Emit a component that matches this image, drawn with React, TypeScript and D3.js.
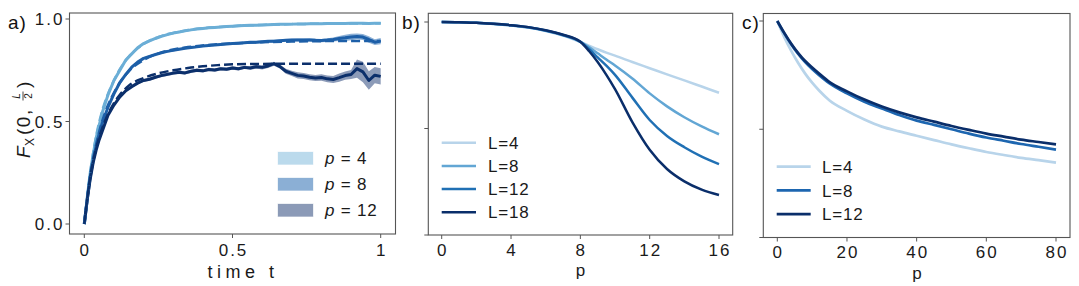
import React from "react";
import * as d3 from "d3";

// ---------- Panel a data ----------
const timeA = [0,0.01,0.02,0.03,0.04,0.05,0.06,0.08,0.1,0.12,0.14,0.16,0.18,0.2,0.22,0.24,0.26,0.28,0.3,0.32,0.34,0.36,0.38,0.4,0.42,0.44,0.46,0.48,0.5,0.52,0.54,0.56,0.58,0.6,0.62,0.64,0.66,0.68,0.7,0.72,0.74,0.76,0.78,0.8,0.82,0.84,0.86,0.88,0.9,0.92,0.94,0.96,0.98,1.0];
const p4Mean = [0,0.13,0.25,0.34,0.42,0.48,0.54,0.63,0.70,0.75,0.80,0.83,0.86,0.88,0.893,0.905,0.915,0.924,0.931,0.937,0.942,0.947,0.951,0.954,0.957,0.959,0.961,0.963,0.965,0.967,0.968,0.969,0.970,0.971,0.972,0.973,0.974,0.974,0.975,0.976,0.976,0.977,0.977,0.977,0.978,0.978,0.978,0.978,0.979,0.979,0.979,0.978,0.979,0.979];
const p8Mean = [0,0.12,0.23,0.31,0.38,0.44,0.49,0.57,0.635,0.69,0.73,0.765,0.79,0.808,0.818,0.827,0.835,0.842,0.847,0.852,0.857,0.861,0.864,0.868,0.871,0.873,0.876,0.878,0.880,0.882,0.884,0.886,0.887,0.889,0.891,0.892,0.894,0.896,0.897,0.898,0.897,0.898,0.896,0.895,0.897,0.900,0.905,0.908,0.912,0.915,0.912,0.900,0.887,0.892];
const p12Mean = [0,0.12,0.22,0.30,0.36,0.41,0.45,0.53,0.58,0.62,0.65,0.67,0.687,0.70,0.706,0.716,0.724,0.73,0.736,0.74,0.737,0.745,0.75,0.747,0.754,0.751,0.757,0.755,0.761,0.757,0.764,0.761,0.767,0.764,0.771,0.782,0.768,0.745,0.735,0.725,0.722,0.716,0.712,0.715,0.708,0.705,0.714,0.724,0.729,0.758,0.742,0.70,0.726,0.72];
const p4Err = [0,0.004,0.005,0.005,0.005,0.005,0.005,0.005,0.005,0.005,0.005,0.005,0.005,0.005,0.005,0.005,0.005,0.005,0.005,0.005,0.005,0.005,0.005,0.005,0.005,0.005,0.005,0.005,0.005,0.005,0.005,0.005,0.005,0.005,0.005,0.005,0.005,0.005,0.005,0.005,0.005,0.005,0.005,0.005,0.005,0.005,0.005,0.005,0.005,0.005,0.005,0.005,0.005,0.005];
const p8Err = [0,0.004,0.005,0.005,0.005,0.005,0.005,0.005,0.005,0.005,0.005,0.005,0.005,0.005,0.005,0.005,0.005,0.005,0.005,0.005,0.005,0.005,0.005,0.005,0.005,0.005,0.005,0.005,0.005,0.005,0.005,0.005,0.006,0.007,0.007,0.007,0.007,0.007,0.007,0.007,0.008,0.008,0.008,0.008,0.009,0.01,0.012,0.015,0.016,0.014,0.015,0.016,0.014,0.015];
const p12Err = [0,0.005,0.006,0.006,0.006,0.006,0.006,0.006,0.006,0.006,0.006,0.006,0.006,0.006,0.007,0.007,0.007,0.008,0.008,0.008,0.008,0.008,0.008,0.008,0.008,0.008,0.008,0.008,0.008,0.008,0.008,0.009,0.009,0.01,0.01,0.01,0.01,0.012,0.013,0.015,0.015,0.015,0.015,0.016,0.016,0.017,0.02,0.02,0.022,0.045,0.05,0.045,0.04,0.04];

const timeD = [0,0.02,0.04,0.06,0.08,0.1,0.12,0.15,0.2,0.25,0.3,0.35,0.4,0.45,0.5,0.6,0.7,0.8,0.9,1.0];
const p4Dash = [0,0.25,0.43,0.55,0.635,0.70,0.755,0.815,0.878,0.912,0.932,0.946,0.955,0.961,0.965,0.971,0.975,0.977,0.978,0.979];
const p8Dash = [0,0.24,0.39,0.50,0.58,0.64,0.69,0.745,0.80,0.832,0.851,0.863,0.871,0.877,0.881,0.887,0.890,0.892,0.893,0.893];
const p12Dash = [0,0.23,0.37,0.465,0.535,0.59,0.63,0.675,0.712,0.735,0.75,0.761,0.769,0.775,0.779,0.781,0.782,0.782,0.782,0.782];

const aXTicks = [0, 0.5, 1];
const aXTickLabels = ["0", "0.5", "1"];
const aYTicks = [0, 0.5, 1];
const aYTickLabels = ["0.0", "0.5", "1.0"];
const aLegend = ["4", "8", "12"];

// ---------- Panel b data ----------
const pB = [0,1,2,3,4,5,6,7,8,8.5,9,9.5,10,11,12,13,14,15,16];
const bL4 = [1.0,0.999,0.996,0.991,0.984,0.974,0.958,0.936,0.906,0.889,0.872,0.856,0.842,0.812,0.783,0.754,0.726,0.697,0.668];
const bL8 = [1.0,0.999,0.996,0.991,0.984,0.974,0.959,0.938,0.907,0.882,0.853,0.824,0.796,0.735,0.665,0.604,0.553,0.51,0.473];
const bL12 = [1.0,0.999,0.996,0.992,0.985,0.975,0.960,0.939,0.907,0.873,0.834,0.795,0.752,0.645,0.54,0.465,0.412,0.368,0.333];
const bL18 = [1.0,0.999,0.996,0.992,0.985,0.976,0.961,0.940,0.907,0.864,0.812,0.752,0.685,0.53,0.40,0.31,0.252,0.213,0.188];
const bXTicks = [0, 4, 8, 12, 16];
const bYTicks = [0, 0.5, 1];
const bLegend = ["L=4", "L=8", "L=12", "L=18"];

// ---------- Panel c data ----------
const pC = [0,2,4,6,8,10,12,15,20,25,30,35,40,45,50,55,60,65,70,75,80];
const cL4 = [1.0,0.925,0.862,0.806,0.757,0.715,0.679,0.633,0.585,0.545,0.512,0.49,0.47,0.45,0.43,0.412,0.395,0.381,0.368,0.357,0.346];
const cL8 = [1.0,0.943,0.892,0.848,0.81,0.778,0.75,0.712,0.666,0.627,0.596,0.566,0.54,0.52,0.5,0.48,0.462,0.447,0.432,0.419,0.406];
const cL12 = [1.0,0.945,0.895,0.852,0.815,0.785,0.757,0.718,0.675,0.637,0.605,0.578,0.555,0.535,0.515,0.497,0.48,0.466,0.452,0.441,0.43];
const cXTicks = [0, 20, 40, 60, 80];
const cYTicks = [0, 0.5, 1];
const cLegend = ["L=4", "L=8", "L=12"];

// ---------- styles ----------
const FONT = "'Liberation Sans', Arial, sans-serif";
const SPINE = "#555";
const TXT = "#1a1a1a";
const aLine = ["#6baed6", "#1d5fa8", "#0b2f6b"];
const aFill = ["#6baed6", "#0050a3", "#002161"];
const bColors = ["#b8d4ea", "#62a6d4", "#2070b4", "#0a2e6a"];
const cColors = ["#b8d4ea", "#1d66b0", "#0a2e6a"];

type Box = { l: number; r: number; t: number; b: number };

function Frame({ box }: { box: Box }) {
  return (
    <rect x={box.l} y={box.t} width={box.r - box.l} height={box.b - box.t}
      fill="none" stroke={SPINE} strokeWidth={1.1} />
  );
}

export default function App() {
  // Panel a
  const boxA: Box = { l: 69.5, r: 395.5, t: 13, b: 234 };
  const xA = d3.scaleLinear().domain([0, 1]).range([84.3, 380.7]);
  const yA = d3.scaleLinear().domain([0, 1]).range([224, 19]);
  const lineA = (xs: number[], ys: number[]) =>
    d3.line<number>().x((_, i) => xA(xs[i])).y((v) => yA(v))(ys) || "";
  const bandA = (m: number[], e: number[]) =>
    d3.area<number>().x((_, i) => xA(timeA[i])).y0((v, i) => yA(v - e[i])).y1((v, i) => yA(v + e[i]))(m) || "";
  const meansA = [p4Mean, p8Mean, p12Mean];
  const errsA = [p4Err, p8Err, p12Err];
  const dashA = [p4Dash, p8Dash, p12Dash];

  // Panel b
  const boxB: Box = { l: 428.3, r: 732.7, t: 13.3, b: 235 };
  const xB = d3.scaleLinear().domain([0, 16]).range([441.7, 719]);
  const yB = d3.scaleLinear().domain([0, 1]).range([235, 22]);
  const lineB = d3.line<number>().x((_, i) => xB(pB[i])).y((v) => yB(v)).curve(d3.curveMonotoneX);
  const seriesB = [bL4, bL8, bL12, bL18];

  // Panel c
  const boxC: Box = { l: 763.3, r: 1070, t: 13.5, b: 237.5 };
  const xC = d3.scaleLinear().domain([0, 80]).range([777.3, 1056]);
  const yC = d3.scaleLinear().domain([0, 1]).range([237.5, 21]);
  const lineC = d3.line<number>().x((_, i) => xC(pC[i])).y((v) => yC(v)).curve(d3.curveMonotoneX);
  const seriesC = [cL4, cL8, cL12];

  const tickFont = { fontFamily: FONT, fontSize: 17, letterSpacing: 2, fill: TXT } as const;
  const legFont = { fontFamily: FONT, fontSize: 17, letterSpacing: 0.8, fill: TXT } as const;

  return (
    <svg width={1079} height={286} style={{ position: "absolute", left: 0, top: 0, background: "#fff" }}>
      <rect x={0} y={0} width={1079} height={286} fill="#fff" />

      {/* ================= Panel a ================= */}
      <g>
        {meansA.map((m, k) => (
          <path key={"band" + k} d={bandA(m, errsA[k])} fill={aFill[k]} opacity={0.45} stroke="none" />
        ))}
        {meansA.map((m, k) => (
          <path key={"mean" + k} d={lineA(timeA, m)} fill="none" stroke={aLine[k]} strokeWidth={3} strokeLinejoin="round" />
        ))}
        {dashA.map((m, k) => (
          <path key={"dash" + k}
            d={d3.line<number>().x((_, i) => xA(timeD[i])).y((v) => yA(v)).curve(d3.curveMonotoneX)(m) || ""}
            fill="none" stroke={aLine[k]} strokeWidth={2.5} strokeDasharray="9,4" />
        ))}
        <Frame box={boxA} />
        {aYTicks.map((t, i) => (
          <g key={"ay" + i}>
            <line x1={boxA.l - 4} x2={boxA.l} y1={yA(t)} y2={yA(t)} stroke={SPINE} />
            <text x={boxA.l - 5} y={yA(t)} dy="0.36em" textAnchor="end" {...tickFont}>{aYTickLabels[i]}</text>
          </g>
        ))}
        {aXTicks.map((t, i) => (
          <g key={"ax" + i}>
            <line x1={xA(t)} x2={xA(t)} y1={boxA.b} y2={boxA.b + 4} stroke={SPINE} />
            <text x={xA(t) + 1} y={256} textAnchor="middle" {...tickFont}>{aXTickLabels[i]}</text>
          </g>
        ))}
        <text x={243} y={278} textAnchor="middle" fontFamily={FONT} fontSize={18} letterSpacing={4.5} fill={TXT}>time t</text>
        <text x={8} y={29} fontFamily={FONT} fontSize={19} letterSpacing={1} fill="#111">a)</text>

        {/* y label F_X(0, L/2) */}
        <g transform="translate(30,158) rotate(-90)" fontFamily={FONT} fill={TXT}>
          <text x={0} y={0} fontSize={19} fontStyle="italic">F</text>
          <text x={12} y={4} fontSize={12}>X</text>
          <text x={23} y={0} fontSize={19} letterSpacing={1.5}>(0,</text>
          <text x={62} y={-10} fontSize={10} fontStyle="italic" textAnchor="middle">L</text>
          <line x1={57.5} x2={66.5} y1={-7} y2={-7} stroke={TXT} strokeWidth={0.8} />
          <text x={62} y={2} fontSize={10} textAnchor="middle">2</text>
          <text x={70} y={0} fontSize={19}>)</text>
        </g>

        {/* legend */}
        {aLegend.map((lab, k) => (
          <g key={"al" + k}>
            <rect x={278} y={152 + k * 26} width={35} height={12.5} fill={aFill[k]} opacity={0.45}
              stroke={aFill[k]} strokeOpacity={0.3} />
            <text x={325} y={158 + k * 26} dy="0.36em" {...legFont}>
              <tspan fontStyle="italic">p</tspan>
              <tspan> = {lab}</tspan>
            </text>
          </g>
        ))}
      </g>

      {/* ================= Panel b ================= */}
      <g>
        {seriesB.map((s, k) => (
          <path key={"b" + k} d={lineB(s) || ""} fill="none" stroke={bColors[k]} strokeWidth={2.5} />
        ))}
        <Frame box={boxB} />
        {bYTicks.map((t, i) => (
          <line key={"by" + i} x1={boxB.l - 4} x2={boxB.l} y1={yB(t)} y2={yB(t)} stroke={SPINE} />
        ))}
        {bXTicks.map((t, i) => (
          <g key={"bx" + i}>
            <line x1={xB(t)} x2={xB(t)} y1={boxB.b} y2={boxB.b + 4} stroke={SPINE} />
            <text x={xB(t) + 1} y={256} textAnchor="middle" {...tickFont}>{String(t)}</text>
          </g>
        ))}
        <text x={580.5} y={276} textAnchor="middle" fontFamily={FONT} fontSize={17} fill={TXT}>p</text>
        <text x={402} y={29} fontFamily={FONT} fontSize={19} letterSpacing={1} fill="#111">b)</text>
        {bLegend.map((lab, k) => (
          <g key={"bl" + k}>
            <line x1={441.7} x2={476} y1={142.7 + k * 23.2} y2={142.7 + k * 23.2} stroke={bColors[k]} strokeWidth={2.5} />
            <text x={488} y={142.7 + k * 23.2} dy="0.36em" {...legFont}>{lab}</text>
          </g>
        ))}
      </g>

      {/* ================= Panel c ================= */}
      <g>
        {seriesC.map((s, k) => (
          <path key={"c" + k} d={lineC(s) || ""} fill="none" stroke={cColors[k]} strokeWidth={2.7} />
        ))}
        <Frame box={boxC} />
        {cYTicks.map((t, i) => (
          <line key={"cy" + i} x1={boxC.l - 4} x2={boxC.l} y1={yC(t)} y2={yC(t)} stroke={SPINE} />
        ))}
        {cXTicks.map((t, i) => (
          <g key={"cx" + i}>
            <line x1={xC(t)} x2={xC(t)} y1={boxC.b} y2={boxC.b + 4} stroke={SPINE} />
            <text x={xC(t) + 1} y={258} textAnchor="middle" {...tickFont}>{String(t)}</text>
          </g>
        ))}
        <text x={917} y={278.5} textAnchor="middle" fontFamily={FONT} fontSize={17} fill={TXT}>p</text>
        <text x={742} y={29} fontFamily={FONT} fontSize={19} letterSpacing={1} fill="#111">c)</text>
        {cLegend.map((lab, k) => (
          <g key={"cl" + k}>
            <line x1={776.7} x2={810.7} y1={166.7 + k * 23.7} y2={166.7 + k * 23.7} stroke={cColors[k]} strokeWidth={2.7} />
            <text x={822} y={166.7 + k * 23.7} dy="0.36em" {...legFont}>{lab}</text>
          </g>
        ))}
      </g>
    </svg>
  );
}
